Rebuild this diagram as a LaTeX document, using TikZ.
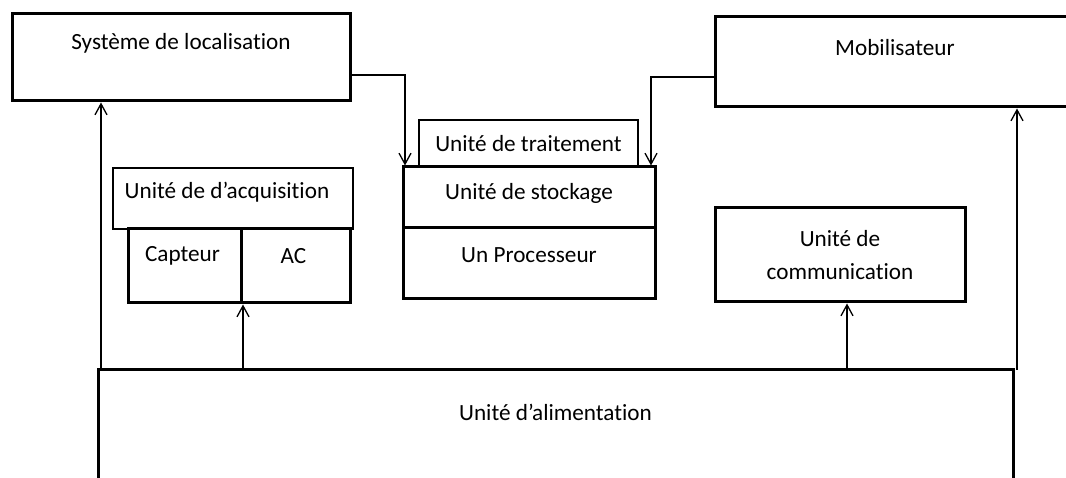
\documentclass[tikz,border=0pt]{standalone}
\usepackage{fontspec}
\setmainfont{Carlito}[Ligatures=NoCommon]
\usetikzlibrary{arrows.meta}
\tikzset{
  unit/.style={draw, line width=3pt, rectangle, inner sep=0pt, outer sep=0pt,
    anchor=north west, font=\fontsize{23.2}{33}\selectfont, align=center},
  thinunit/.style={unit, line width=1.2pt},
  tagtext/.style={anchor=center, inner sep=0pt, font=\fontsize{23.2}{33}\selectfont},
  feed/.style={line width=1.3pt, -{Straight Barb[length=11pt,width=12pt,line width=1.3pt]}, shorten >=1.5pt},
}
\begin{document}
\begin{tikzpicture}[x=1pt,y=-1pt]
\useasboundingbox (0,0) rectangle (1066,478);
\clip (0,0) rectangle (1066,478);

% top-level blocks
\node[unit, minimum width=338pt, minimum height=87pt,
  label={[tagtext, yshift=-29pt]north:Système de localisation}] (loc) at (12,14) {};
\node[unit, minimum width=360pt, minimum height=90pt,
  label={[tagtext, yshift=-31pt]north:Mobilisateur}] (mob) at (715,17) {};

% processing stack
\node[thinunit, minimum width=219pt, minimum height=47pt] (trait) at (419,120) {Unité de traitement};
\node[unit, minimum width=252pt, minimum height=61pt,
  label={[tagtext, yshift=-26pt]north:Unité de stockage}] (stock) at (403,167) {};
\node[unit, minimum width=252pt, minimum height=71pt,
  label={[tagtext, yshift=-27pt]north:Un Processeur}] (proc) at (403,228) {};

% acquisition unit
\node[thinunit, minimum width=240pt, minimum height=61pt,
  label={[tagtext, yshift=-24pt, xshift=-6pt]north:Unité de d’acquisition}] (acq) at (113,168) {};
\node[unit, minimum width=113pt, minimum height=74pt,
  label={[tagtext, yshift=-27pt, xshift=-2pt]north:Capteur}] (capt) at (128,229) {};
\node[unit, minimum width=109pt, minimum height=74pt,
  label={[tagtext, yshift=-27pt, xshift=-2pt]north:AC}] (ac) at (241,229) {};

% communication unit
\node[unit, minimum width=250pt, minimum height=94pt] (comm) at (715,208) {Unité de\\communication};

% power supply
\node[unit, minimum width=915pt, minimum height=200pt,
  label={[tagtext, yshift=-42pt]north:Unité d’alimentation}] (alim) at (98,370) {};

% connectors
\draw[feed] ([yshift=-17.5pt]loc.east) -| ([xshift=2pt]stock.north west);
\draw[feed] ([yshift=-15pt]mob.west) -| ([xshift=-4pt]stock.north east);
\draw[feed] ([xshift=3pt]alim.north west) -- ([xshift=3pt]alim.north west |- loc.south);
\draw[feed] ([xshift=2pt]capt.south east |- alim.north) -- ([xshift=2pt]capt.south east);
\draw[feed] ([xshift=7pt]comm.south |- alim.north) -- ([xshift=7pt]comm.south);
\draw[feed] ([xshift=4pt]alim.north east) -- ([xshift=4pt]alim.north east |- mob.south);
\end{tikzpicture}
\end{document}
